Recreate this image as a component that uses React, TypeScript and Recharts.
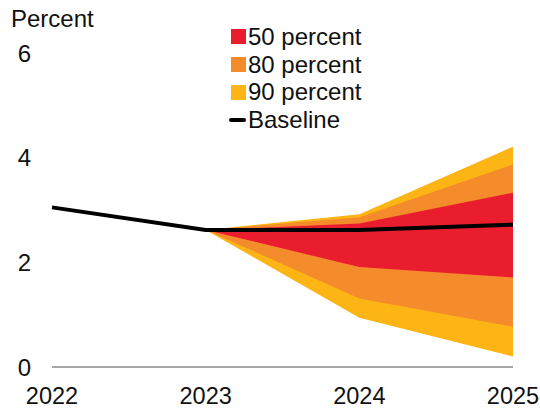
import React from 'react';
import {
  ComposedChart,
  Area,
  Line,
  XAxis,
  YAxis,
} from 'recharts';

const years = [2022, 2023, 2024, 2025];
const baseline = [3.05, 2.62, 2.62, 2.72];
const lower50 = [null, 2.62, 1.91, 1.71];
const upper50 = [null, 2.62, 2.74, 3.33];
const lower80 = [null, 2.62, 1.31, 0.77];
const upper80 = [null, 2.62, 2.86, 3.87];
const lower90 = [null, 2.62, 0.94, 0.2];
const upper90 = [null, 2.62, 2.92, 4.21];
const yTicks = [0, 2, 4, 6];

const bandLabels = ['50 percent', '80 percent', '90 percent'];
const baselineLabel = 'Baseline';

const RED = '#EA1D2F';
const ORANGE = '#F58C2C';
const YELLOW = '#FDB515';
const FONT = '"Liberation Sans", Arial, sans-serif';

const range = (lo: (number | null)[], hi: (number | null)[], i: number) =>
  lo[i] == null || hi[i] == null ? null : [lo[i], hi[i]];

const data = years.map((year, i) => ({
  year,
  baseline: baseline[i],
  band50: range(lower50, upper50, i),
  band80: range(lower80, upper80, i),
  band90: range(lower90, upper90, i),
}));

function FanLegend() {
  const swatches = [RED, ORANGE, YELLOW];
  const row: React.CSSProperties = {
    display: 'flex',
    alignItems: 'center',
    height: 27.7,
    fontSize: 24,
    color: '#111',
    fontFamily: FONT,
    lineHeight: 1,
  };
  return (
    <div style={{ position: 'absolute', left: 229, top: 23 }}>
      {bandLabels.map((label, i) => (
        <div key={label} style={row}>
          <span
            style={{
              display: 'inline-block',
              width: 15,
              height: 15,
              background: swatches[i],
              marginLeft: 2,
              marginRight: 2,
            }}
          />
          {label}
        </div>
      ))}
      <div style={row}>
        <span
          style={{
            display: 'inline-block',
            width: 17,
            height: 4,
            borderRadius: 2,
            background: '#000',
            marginRight: 2,
          }}
        />
        {baselineLabel}
      </div>
    </div>
  );
}

export default function App() {
  return (
    <div style={{ position: 'absolute', left: 0, top: 0, width: 540, height: 408, background: '#fff' }}>
      <ComposedChart
        width={540}
        height={408}
        data={data}
        margin={{ top: 53, right: 27, bottom: 0, left: 0 }}
      >
        <XAxis
          dataKey="year"
          type="number"
          domain={[2022, 2025]}
          ticks={years}
          height={41}
          tickLine={false}
          tickSize={0}
          tickMargin={20}
          axisLine={{ stroke: '#8a8a8a', strokeWidth: 1.5 }}
          tick={{ fill: '#111', fontSize: 23.5, fontFamily: FONT }}
          interval={0}
        />
        <YAxis
          type="number"
          domain={[0, 6]}
          ticks={yTicks}
          width={52}
          tickLine={false}
          tickSize={0}
          tickMargin={21}
          axisLine={false}
          tick={{ fill: '#111', fontSize: 24, fontFamily: FONT }}
        />
        <Area
          type="linear"
          dataKey="band90"
          stroke="none"
          fill={YELLOW}
          fillOpacity={1}
          dot={false}
          activeDot={false}
          isAnimationActive={false}
        />
        <Area
          type="linear"
          dataKey="band80"
          stroke="none"
          fill={ORANGE}
          fillOpacity={1}
          dot={false}
          activeDot={false}
          isAnimationActive={false}
        />
        <Area
          type="linear"
          dataKey="band50"
          stroke="none"
          fill={RED}
          fillOpacity={1}
          dot={false}
          activeDot={false}
          isAnimationActive={false}
        />
        <Line
          type="linear"
          dataKey="baseline"
          stroke="#000"
          strokeWidth={4}
          dot={false}
          activeDot={false}
          isAnimationActive={false}
        />
      </ComposedChart>
      <div
        style={{
          position: 'absolute',
          left: 11,
          top: 7,
          fontSize: 24,
          fontFamily: FONT,
          color: '#111',
          lineHeight: 1,
        }}
      >
        Percent
      </div>
      <FanLegend />
    </div>
  );
}
